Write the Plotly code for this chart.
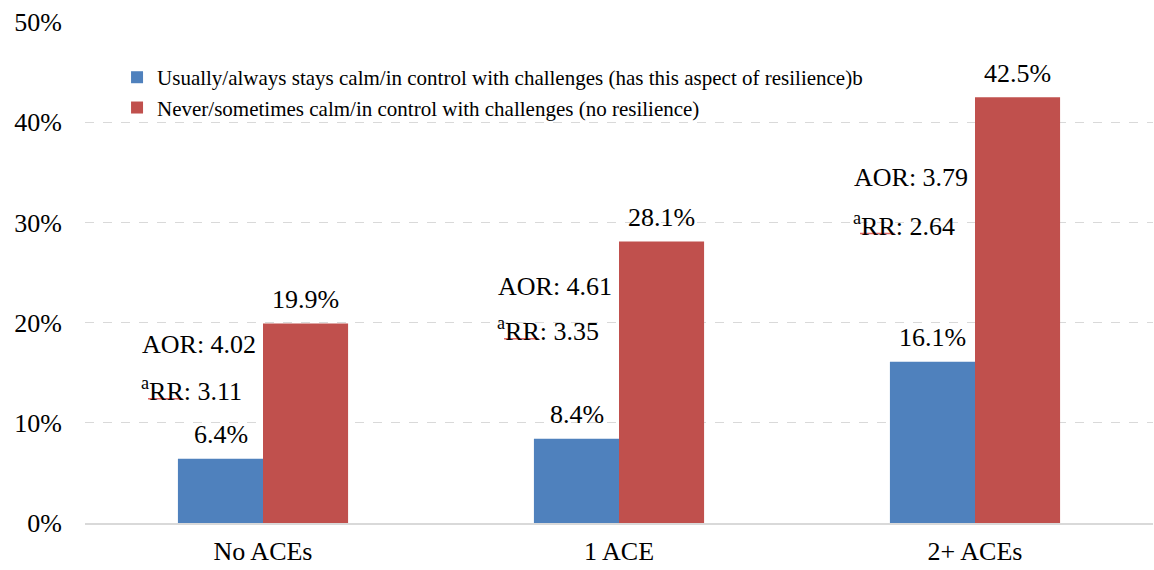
import plotly.graph_objects as go

# Categories and series values (percent)
categories = ["No ACEs", "1 ACE", "2+ ACEs"]
resilient = [6.4, 8.4, 16.1]
not_resilient = [19.9, 28.1, 42.5]
aor_values = ["4.02", "4.61", "3.79"]
rr_values = ["3.11", "3.35", "2.64"]
y_ticks = [0, 10, 20, 30, 40, 50]
y_tick_labels = [f"{v}%" for v in y_ticks]

series_names = [
    "Usually/always stays calm/in control with challenges (has this aspect of resilience)b",
    "Never/sometimes calm/in control with challenges (no resilience)",
]

BLUE = "#4F81BD"
RED = "#C0504D"
BASE_FONT = "Liberation Serif"
YTICK_FONT = "Liberation Serif, serif"
LEGEND_FONT = "Liberation Serif, DejaVu Serif, serif"
VALUE_FONT = "Liberation Serif, Times, serif"
AOR_FONT = "serif"
RR_FONT = "Liberation Serif, Noto Serif, serif"

fig = go.Figure()
for name, vals, color in [
    (series_names[0], resilient, BLUE),
    (series_names[1], not_resilient, RED),
]:
    fig.add_trace(go.Bar(
        x=categories, y=vals, name=name,
        marker=dict(color=color, line=dict(width=0)),
    ))

# value labels above each bar
for i, cat in enumerate(categories):
    for vals, dx in [(resilient, -42.5), (not_resilient, 42.5)]:
        fig.add_annotation(
            x=cat, y=vals[i], xref="x", yref="y",
            xanchor="center", yanchor="middle", xshift=dx, yshift=24,
            showarrow=False, text=f"{vals[i]:.1f}%",
            font=dict(family=VALUE_FONT, size=26, color="#000000"),
        )

# AOR / RR annotations beside each category's bars
aor_y = [17.8, 23.6, 34.5]
rr_y = [13.3, 19.3, 29.8]
for i, cat in enumerate(categories):
    fig.add_annotation(
        x=cat, y=aor_y[i], xref="x", yref="y", xanchor="left", yanchor="middle",
        xshift=-123, showarrow=False, text=f"AOR: {aor_values[i]}",
        font=dict(family=AOR_FONT, size=26, color="#000000"),
    )
    fig.add_annotation(
        x=cat, y=rr_y[i], xref="x", yref="y", xanchor="left", yanchor="middle",
        xshift=-124, showarrow=False, text=f"<sup>a</sup>RR: {rr_values[i]}",
        font=dict(family=RR_FONT, size=26, color="#000000"),
    )
    # thin red proofing underline beneath "aRR" (category axis units)
    fig.add_shape(
        type="line", xref="x", yref="y",
        x0=i - 0.323, x1=i - 0.225, y0=rr_y[i] - 0.9, y1=rr_y[i] - 0.9,
        line=dict(color="#E06666", width=1.5), layer="above",
    )

fig.update_layout(
    width=1154, height=570,
    margin=dict(l=85, r=1, t=22, b=47),
    paper_bgcolor="white", plot_bgcolor="white",
    barmode="group", bargap=0.522, bargroupgap=0,
    font=dict(family=BASE_FONT, size=26, color="#000000"),
    showlegend=True,
    legend=dict(
        x=0.03, y=0.93, xanchor="left", yanchor="top",
        font=dict(family=LEGEND_FONT, size=21, color="#000000"),
        bgcolor="rgba(0,0,0,0)", itemwidth=30, tracegroupgap=0,
    ),
    xaxis=dict(
        type="category", showgrid=False, showline=True,
        linecolor="#D9D9D9", linewidth=1.5, ticks="",
        tickfont=dict(family=BASE_FONT, size=26, color="#000000"),
        ticklabelstandoff=4,
    ),
    yaxis=dict(
        range=[0, 50], tickvals=y_ticks, ticktext=y_tick_labels,
        showgrid=True, gridcolor="#D9D9D9", griddash="dash", gridwidth=1,
        zeroline=False, showline=False, ticks="",
        tickfont=dict(family=YTICK_FONT, size=26, color="#000000"),
        ticklabelstandoff=22,
    ),
)

fig.write_html("out.html")
